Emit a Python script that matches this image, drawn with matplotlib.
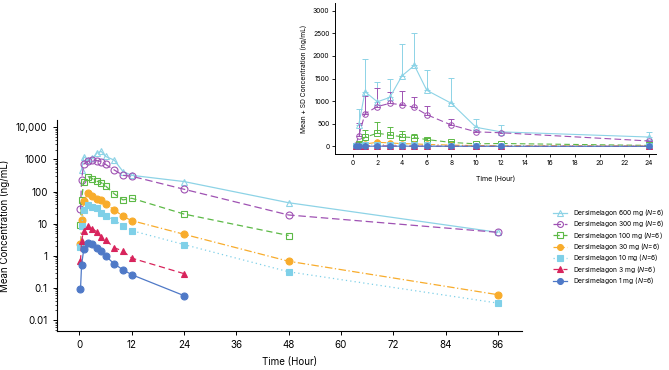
import numpy as np
import matplotlib
matplotlib.use("Agg")
import matplotlib.pyplot as plt
from matplotlib.ticker import FixedLocator, FixedFormatter, LogLocator, NullFormatter

plt.rcParams['font.family'] = ['Inter', 'DejaVu Sans']
plt.rcParams['mathtext.fontset'] = 'custom'
plt.rcParams['mathtext.it'] = 'Inter:italic'
plt.rcParams['mathtext.rm'] = 'Inter'

# ---------------- data ----------------
doses = ["600 mg", "300 mg", "100 mg", "30 mg", "10 mg", "3 mg", "1 mg"]

t_600 = [0.5, 1, 2, 3, 4, 5, 6, 8, 10, 12, 24, 48, 96]
c_600 = [480, 1210, 985, 1080, 1560, 1790, 1240, 950, 420, 320, 205, 45, 5.4]
sd_600 = [350, 720, 435, 410, 710, 710, 450, 560, 190, 150, 105, 0, 0]

t_300 = [0.25, 0.5, 1, 2, 3, 4, 5, 6, 8, 10, 12, 24, 48, 96]
c_300 = [28, 235, 720, 880, 950, 920, 860, 700, 470, 320, 300, 118, 18.7, 5.4]
sd_300 = [10, 280, 390, 420, 250, 310, 240, 190, 140, 40, 30, 20, 0, 0]

t_100 = [0.25, 0.5, 1, 2, 3, 4, 5, 6, 8, 10, 12, 24, 48]
c_100 = [9, 55, 200, 290, 250, 210, 190, 150, 85, 55, 62, 20, 4.3]
sd_100 = [5, 30, 160, 250, 180, 130, 90, 40, 25, 15, 15, 8, 0]

t_30 = [0.25, 0.5, 1, 2, 3, 4, 5, 6, 8, 10, 12, 24, 48, 96]
c_30 = [2.4, 13, 51, 89, 75, 59, 54, 41, 27, 17, 12.5, 4.7, 0.68, 0.062]
sd_30 = [1, 8, 25, 30, 25, 20, 18, 12, 8, 5, 4, 2, 0, 0]

t_10 = [0.25, 0.5, 1, 2, 3, 4, 5, 6, 8, 10, 12, 24, 48, 96]
c_10 = [1.86, 8.6, 27, 38, 33, 30, 22, 18, 13, 8.6, 6.1, 2.25, 0.32, 0.034]
sd_10 = [1, 4, 10, 12, 10, 9, 7, 5, 4, 3, 2, 1, 0, 0]

t_3 = [0.25, 0.5, 1, 2, 3, 4, 5, 6, 8, 10, 12, 24]
c_3 = [0.67, 3.0, 6.1, 8.2, 6.9, 5.6, 3.8, 3.1, 1.8, 1.4, 0.85, 0.28]
sd_3 = [0.3, 1.5, 3, 3, 2.5, 2, 1.5, 1, 0.6, 0.5, 0.3, 0.1]

t_1 = [0.25, 0.5, 1, 2, 3, 4, 5, 6, 8, 10, 12, 24]
c_1 = [0.09, 0.52, 1.6, 2.5, 2.3, 1.8, 1.4, 1.0, 0.56, 0.37, 0.26, 0.058]
sd_1 = [0.05, 0.3, 0.8, 1, 0.9, 0.7, 0.5, 0.4, 0.2, 0.15, 0.1, 0.03]

main_xticks = [0, 12, 24, 36, 48, 60, 72, 84, 96]
main_yticks = [0.01, 0.1, 1, 10, 100, 1000, 10000]
main_ylabels = ["0.01", "0.1", "1", "10", "100", "1000", "10,000"]
inset_xticks = list(range(0, 25, 2))
inset_yticks = [0, 500, 1000, 1500, 2000, 2500, 3000]

series = [
    (t_600, c_600, sd_600, dict(color="#8dd3e6", ls="-", marker="^", mfc="none")),
    (t_300, c_300, sd_300, dict(color="#9f52b3", ls=(0, (6, 3)), marker="o", mfc="none")),
    (t_100, c_100, sd_100, dict(color="#5cb946", ls=(0, (5, 3)), marker="s", mfc="none")),
    (t_30, c_30, sd_30, dict(color="#f8ac2c", ls=(0, (6, 2, 1, 2)), marker="o", mfc=None)),
    (t_10, c_10, sd_10, dict(color="#7fd0e8", ls=(0, (1, 2.5)), marker="s", mfc=None)),
    (t_3, c_3, sd_3, dict(color="#d8245c", ls=(0, (5, 3)), marker="^", mfc=None)),
    (t_1, c_1, sd_1, dict(color="#4f79c7", ls="-", marker="o", mfc=None)),
]

fig = plt.figure(figsize=(6.69, 3.70), dpi=100)

# ---------------- main axes ----------------
ax = fig.add_axes([0.0848, 0.106, 0.6952, 0.570])
handles = []
for (t, c, sd, st), name in zip(series, doses):
    mfc = st["mfc"] if st["mfc"] is not None else st["color"]
    h, = ax.plot(t, c, color=st["color"], ls=st["ls"], lw=0.9,
                 marker=st["marker"], ms=5, mfc=mfc, mec=st["color"], mew=0.8,
                 label=f"Dersimelagon {name} ($\\it{{N}}$=6)")
    handles.append(h)

ax.set_yscale("log")
ax.set_xlim(-5.2, 101.5)
ax.set_ylim(10 ** -2.33, 10 ** 4.23)
ax.xaxis.set_major_locator(FixedLocator(main_xticks))
ax.yaxis.set_major_locator(FixedLocator(main_yticks))
ax.yaxis.set_major_formatter(FixedFormatter(main_ylabels))
ax.yaxis.set_minor_locator(LogLocator(base=10, subs=np.arange(2, 10)))
ax.yaxis.set_minor_formatter(NullFormatter())
for s in ["top", "right"]:
    ax.spines[s].set_visible(False)
for s in ["left", "bottom"]:
    ax.spines[s].set_linewidth(0.8)
ax.tick_params(axis="both", which="major", labelsize=7, length=3, width=0.7, direction="out")
ax.tick_params(axis="y", which="minor", length=1.8, width=0.5)
ax.set_xlabel("Time (Hour)", fontsize=7, labelpad=5)
ax.set_ylabel("Mean Concentration (ng/mL)", fontsize=7)

# ---------------- inset axes ----------------
ai = fig.add_axes([0.5007, 0.5838, 0.4799, 0.408])
for (t, c, sd, st) in series:
    t = np.array(t); c = np.array(c); sd = np.array(sd)
    m = t <= 24
    mfc = st["mfc"] if st["mfc"] is not None else st["color"]
    ai.errorbar(t[m], c[m], yerr=[np.zeros(m.sum()), sd[m]], color=st["color"],
                ls=st["ls"], lw=0.8, marker=st["marker"], ms=4, mfc=mfc,
                mec=st["color"], mew=0.7, elinewidth=0.7, capsize=2, capthick=0.7)
ai.set_xlim(-1.43, 24.56)
ai.set_ylim(-170, 3170)
ai.xaxis.set_major_locator(FixedLocator(inset_xticks))
ai.yaxis.set_major_locator(FixedLocator(inset_yticks))
for s in ["top", "right"]:
    ai.spines[s].set_visible(False)
for s in ["left", "bottom"]:
    ai.spines[s].set_linewidth(0.7)
ai.tick_params(axis="both", labelsize=4.8, length=2, width=0.6, pad=2)
ai.set_xlabel("Time (Hour)", fontsize=5, labelpad=7)
ai.set_ylabel("Mean + SD Concentration (ng/mL)", fontsize=4.8, labelpad=4)

# ---------------- legend ----------------
fig.legend(handles=handles, loc="upper left", bbox_to_anchor=(0.822, 0.448),
           frameon=False, fontsize=4.8, handlelength=2.2, handletextpad=0.9,
           labelspacing=0.05, markerscale=0.85, borderaxespad=0)

fig.savefig("out.png", dpi=100)
